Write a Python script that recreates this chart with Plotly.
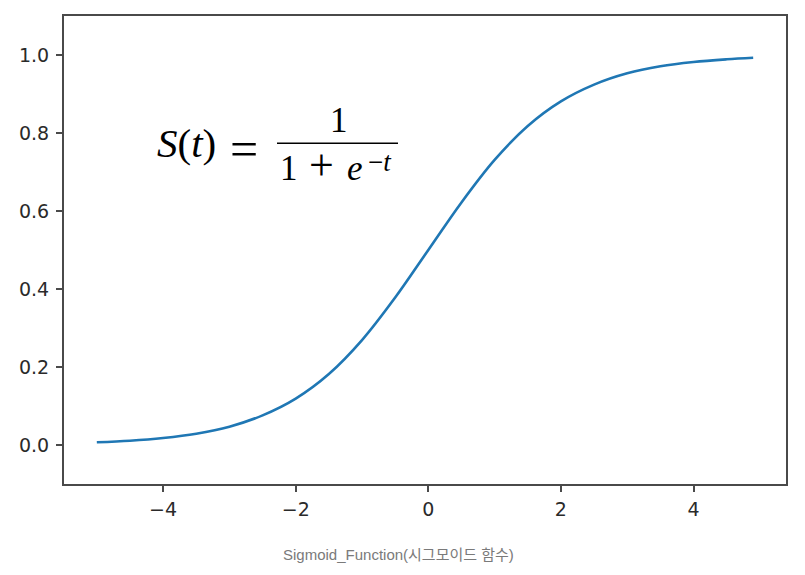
import plotly.graph_objects as go

# Values
t_values = [-5, -4.5, -4, -3.5, -3, -2.5, -2, -1.5, -1, -0.5, 0, 0.5, 1, 1.5, 2, 2.5, 3, 3.5, 4, 4.5, 4.9]
s_values = [0.007, 0.011, 0.018, 0.029, 0.047, 0.076, 0.119, 0.182, 0.269, 0.378, 0.5,
            0.622, 0.731, 0.818, 0.881, 0.924, 0.953, 0.971, 0.982, 0.989, 0.993]
x_ticks = [-4, -2, 0, 2, 4]
x_tick_labels = ["\u22124", "\u22122", "0", "2", "4"]
y_ticks = [0.0, 0.2, 0.4, 0.6, 0.8, 1.0]
y_tick_labels = ["0.0", "0.2", "0.4", "0.6", "0.8", "1.0"]
caption = "Sigmoid_Function(시그모이드 함수)"

W, H = 805, 575
ML, MR, MT, MB = 64, 19, 16, 91
PW, PH = W - ML - MR, H - MT - MB


def px(xp):
    return (xp - ML) / PW


def py(yp):
    return (H - MB - yp) / PH


fig = go.Figure()
fig.add_trace(go.Scatter(x=t_values, y=s_values, mode="lines",
                         line=dict(color="#1f77b4", width=2.6, shape="spline", smoothing=1.0),
                         showlegend=False, hoverinfo="skip"))

axis_common = dict(showline=True, mirror=True, linecolor="#4a4a4a", linewidth=2,
                   ticks="outside", ticklen=6, tickwidth=1.5, tickcolor="#4a4a4a",
                   showgrid=False, zeroline=False,
                   tickfont=dict(family="DejaVu Sans", size=19, color="#2a2a2a"))

fig.update_xaxes(range=[-5.495, 5.395], tickvals=x_ticks, ticktext=x_tick_labels,
                 ticklabelstandoff=1, **axis_common)
fig.update_yaxes(range=[-0.1, 1.1], tickvals=y_ticks, ticktext=y_tick_labels,
                 ticklabelstandoff=3, **axis_common)

serif = "Liberation Serif"
formula_parts = [
    # (center x px, center y px, text, font size)
    (186, 143, "<i>S</i>(<i>t</i>)", 41),
    (244, 148.5, "=", 50),
    (338.5, 120, "1", 35),
    (288.5, 168.5, "1", 35),
    (321, 165, "+", 44),
    (355, 168.5, "<i>e</i>", 35),
    (380, 162, "\u2212<i>t</i>", 27),
]
for cx, cy, txt, sz in formula_parts:
    fig.add_annotation(x=px(cx), y=py(cy), xref="paper", yref="paper", text=txt,
                       showarrow=False, xanchor="center", yanchor="middle",
                       font=dict(family=serif, size=sz, color="black"))
fig.add_shape(type="line", x0=px(277), x1=px(398), y0=py(143.3), y1=py(143.3),
              xref="paper", yref="paper", line=dict(color="black", width=1.6))

fig.add_annotation(x=px(398.5), y=py(554), xref="paper", yref="paper", text=caption,
                   showarrow=False, xanchor="center", yanchor="middle",
                   font=dict(family="Liberation Sans, Noto Sans CJK KR", size=15, color="#7a7a7a"))

fig.update_layout(width=W, height=H, margin=dict(l=ML, r=MR, t=MT, b=MB),
                  plot_bgcolor="white", paper_bgcolor="white")

fig.write_html("out.html", config={"displayModeBar": False},
               post_script="document.body.style.margin='0';")
